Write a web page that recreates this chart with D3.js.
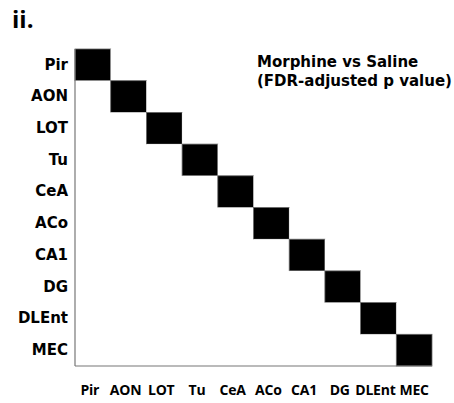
<!DOCTYPE html>
<html>
<head>
<meta charset="utf-8">
<script src="https://cdn.jsdelivr.net/npm/d3@7"></script>
<style>
  body { margin: 0; background: #fff; }
  svg text { font-family: "DejaVu Sans", sans-serif; font-weight: 700; fill: #000; }
  .x-axis text { font-family: "Open Sans", sans-serif; font-weight: 700; letter-spacing: -0.2px; }
</style>
</head>
<body>
<svg id="chart"></svg>
<script>
const regions = ["Pir", "AON", "LOT", "Tu", "CeA", "ACo", "CA1", "DG", "DLEnt", "MEC"];

// FDR-adjusted p values, Morphine vs Saline (rows = regions)
const pPir   = [0, 1, 1, 1, 1, 1, 1, 1, 1, 1];
const pAON   = [1, 0, 1, 1, 1, 1, 1, 1, 1, 1];
const pLOT   = [1, 1, 0, 1, 1, 1, 1, 1, 1, 1];
const pTu    = [1, 1, 1, 0, 1, 1, 1, 1, 1, 1];
const pCeA   = [1, 1, 1, 1, 0, 1, 1, 1, 1, 1];
const pACo   = [1, 1, 1, 1, 1, 0, 1, 1, 1, 1];
const pCA1   = [1, 1, 1, 1, 1, 1, 0, 1, 1, 1];
const pDG    = [1, 1, 1, 1, 1, 1, 1, 0, 1, 1];
const pDLEnt = [1, 1, 1, 1, 1, 1, 1, 1, 0, 1];
const pMEC   = [1, 1, 1, 1, 1, 1, 1, 1, 1, 0];

const matrix = [pPir, pAON, pLOT, pTu, pCeA, pACo, pCA1, pDG, pDLEnt, pMEC];

const width = 454, height = 403;
const margin = { top: 49, right: 22, bottom: 37, left: 75 };

const svg = d3.select('#chart')
    .attr('width', width)
    .attr('height', height);

const x = d3.scaleBand()
    .domain(regions)
    .range([margin.left, width - margin.right])
    .padding(0);

const y = d3.scaleBand()
    .domain(regions)
    .range([margin.top, height - margin.bottom])
    .padding(0);

const color = d3.scaleLinear()
    .domain([0, 1])
    .range(['#000000', '#ffffff']);

// Flatten the matrix into cells
const cells = [];
matrix.forEach((row, i) => {
    row.forEach((v, j) => {
        cells.push({ row: regions[i], col: regions[j], value: v });
    });
});

svg.append('g')
    .selectAll('rect')
    .data(cells)
    .enter().append('rect')
    .attr('x', d => x(d.col))
    .attr('y', d => y(d.row))
    .attr('width', x.bandwidth())
    .attr('height', y.bandwidth())
    .attr('fill', d => color(d.value))
    .attr('stroke', d => d.value < 0.5 ? '#666' : 'none')
    .attr('stroke-width', 0.8);

// Left and bottom frame lines
svg.append('line')
    .attr('x1', margin.left).attr('x2', margin.left)
    .attr('y1', margin.top).attr('y2', height - margin.bottom)
    .attr('stroke', '#777').attr('stroke-width', 1.2);

svg.append('line')
    .attr('x1', margin.left).attr('x2', width - margin.right)
    .attr('y1', height - margin.bottom).attr('y2', height - margin.bottom)
    .attr('stroke', '#777').attr('stroke-width', 1.2);

// Axis labels
const yAxis = d3.axisLeft(y).tickSize(0).tickPadding(7);
svg.append('g')
    .attr('transform', `translate(${margin.left},0)`)
    .call(yAxis)
    .call(g => g.select('.domain').remove())
    .selectAll('text')
    .style('font-size', '15px');

const xAxis = d3.axisBottom(x).tickSize(0).tickPadding(19);
svg.append('g')
    .attr('class', 'x-axis')
    .attr('transform', `translate(0,${height - margin.bottom})`)
    .call(xAxis)
    .call(g => g.select('.domain').remove())
    .selectAll('text')
    .attr('dx', d => d === 'MEC' ? 0 : -3)
    .style('font-size', '14px');

// Titles
svg.append('text')
    .attr('x', 12).attr('y', 28)
    .style('font-family', '"Open Sans", sans-serif')
    .style('font-size', '24px')
    .text('ii.');

svg.append('text')
    .attr('x', 257).attr('y', 67)
    .style('font-size', '15px')
    .text('Morphine vs Saline');

svg.append('text')
    .attr('x', 257).attr('y', 86)
    .style('font-size', '15px')
    .text('(FDR-adjusted p value)');
</script>
</body>
</html>
